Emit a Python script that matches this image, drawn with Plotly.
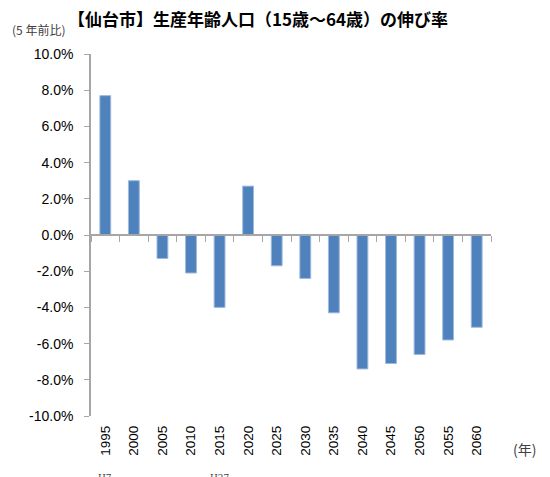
import plotly.graph_objects as go

years = ["1995", "2000", "2005", "2010", "2015", "2020", "2025", "2030",
         "2035", "2040", "2045", "2050", "2055", "2060"]
rates = [7.7, 3.0, -1.3, -2.1, -4.0, 2.7, -1.7, -2.4, -4.3, -7.4, -7.1, -6.6, -5.8, -5.1]
tick_vals = [-10, -8, -6, -4, -2, 0, 2, 4, 6, 8, 10]
tick_text = [f"{v:.1f}%" for v in tick_vals]
era_notes = {"1995": "H7", "2015": "H27"}

W, H = 550, 477
OFF = 8  # page body margin
L, R, T, B = 83, 67, 46, 69
plot_h = H - T - B
plot_w = W - L - R
cat_range = [-0.5, len(years) - 0.5]


def px_x(sx):
    return (sx - OFF - L) / plot_w


def px_y(sy):
    return (H - B - (sy - OFF)) / plot_h


fig = go.Figure()
fig.add_trace(go.Bar(
    x=years, y=rates, width=0.38,
    marker=dict(color="#4F81BD", line=dict(color="#9DB9DD", width=1)),
    xaxis="x", yaxis="y", showlegend=False,
))
# invisible trace to drive the zero-line category axis
fig.add_trace(go.Scatter(x=years, y=[0] * len(years), xaxis="x2", yaxis="y",
                         mode="markers", marker=dict(opacity=0),
                         showlegend=False, hoverinfo="skip"))

font_ticks = "Liberation Sans, Arial, sans-serif"
fig.update_layout(
    width=W, height=H,
    margin=dict(l=L, r=R, t=T, b=B, autoexpand=False),
    plot_bgcolor="white", paper_bgcolor="white",
    title=dict(text="<b>【仙台市】生産年齢人口（15歳～64歳）の伸び率</b>",
               x=(258 - OFF) / W, xanchor="center", xref="container",
               y=1 - (20 - OFF) / H, yanchor="middle", yref="container",
               font=dict(family="Noto Sans CJK JP", size=17, color="black")),
    xaxis=dict(
        type="category", range=cat_range, showline=False, ticks="", tickangle=-90,
        tickfont=dict(family=font_ticks, size=13.5, color="black"),
        showgrid=False, zeroline=False, automargin=False, ticklabelstandoff=6,
    ),
    xaxis2=dict(
        type="category", range=cat_range, overlaying="x", anchor="free", position=0.5,
        showline=True, linecolor="#A6A6A6", linewidth=1.5,
        ticks="outside", tickson="boundaries", ticklen=6, tickcolor="#A6A6A6",
        showticklabels=False, showgrid=False, zeroline=False, automargin=False,
        categoryorder="array", categoryarray=years,
    ),
    yaxis=dict(
        range=[-10, 10], tickvals=tick_vals, ticktext=tick_text,
        showline=True, linecolor="#A6A6A6", linewidth=1.5,
        ticks="outside", ticklen=5, tickcolor="#A6A6A6",
        showgrid=False, zeroline=False, automargin=False, ticklabelstandoff=8,
        tickfont=dict(family=font_ticks, size=14, color="black"),
    ),
    annotations=[
        dict(text="(5 年前比)", xref="paper", yref="paper",
             x=px_x(38), y=px_y(30),
             xanchor="center", yanchor="middle", showarrow=False,
             font=dict(family="Noto Sans CJK JP", size=12, color="#404040")),
        dict(text="(年)", xref="paper", yref="paper",
             x=px_x(524), y=px_y(449),
             xanchor="center", yanchor="middle", showarrow=False,
             font=dict(family="Noto Sans CJK JP", size=14, color="#404040")),
    ] + [
        dict(text=note, xref="x", yref="paper", x=years.index(yr),
             y=px_y(471), yanchor="top", xanchor="center",
             showarrow=False,
             font=dict(family="DejaVu Serif", size=9, color="#404040"))
        for yr, note in era_notes.items()
    ],
)

fig.write_html("out.html")
